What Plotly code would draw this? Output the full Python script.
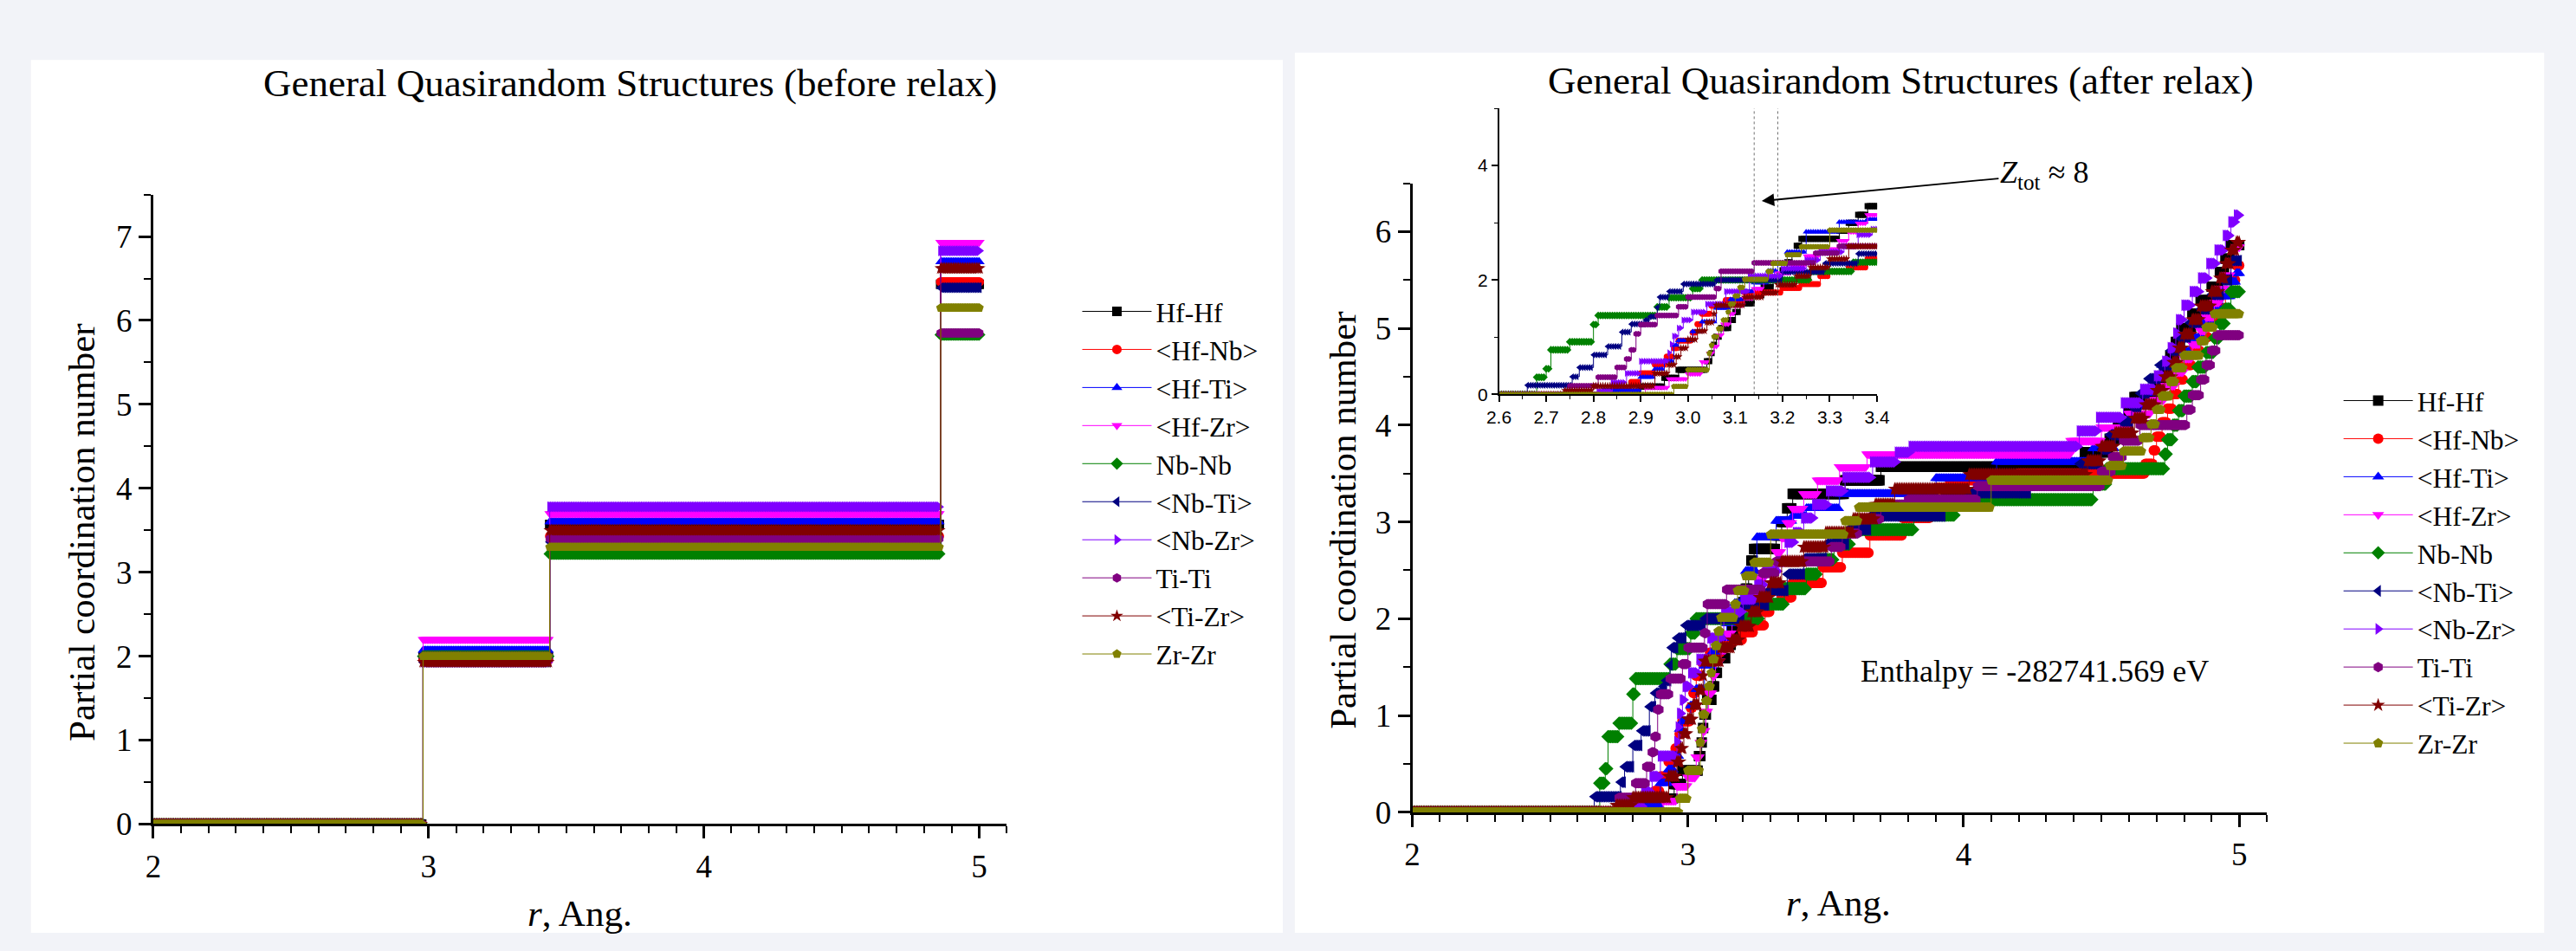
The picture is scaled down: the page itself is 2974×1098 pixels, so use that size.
import numpy as np
import plotly.graph_objects as go

W, H = 2974, 1098

# ---------------- series metadata ----------------
names = ["Hf-Hf", "&lt;Hf-Nb&gt;", "&lt;Hf-Ti&gt;", "&lt;Hf-Zr&gt;", "Nb-Nb",
         "&lt;Nb-Ti&gt;", "&lt;Nb-Zr&gt;", "Ti-Ti", "&lt;Ti-Zr&gt;", "Zr-Zr"]
colors = ["#000000", "#ff0000", "#0000ff", "#ff00ff", "#008000",
          "#000080", "#8000ff", "#800080", "#800000", "#808000"]
symbols = ["square", "circle", "triangle-up", "triangle-down", "diamond",
           "triangle-left", "triangle-right", "hexagon", "star", "pentagon"]

# ---------------- before relax: step edges (Ang.) and coordination levels ----------------
before_r = [2.0, 2.98, 3.44, 4.86]
before_hfhf = [0, 2.00, 3.57, 6.43]
before_hfnb = [0, 1.95, 3.43, 6.46]
before_hfti = [0, 2.07, 3.60, 6.70]
before_hfzr = [0, 2.20, 3.70, 6.93]
before_nbnb = [0, 2.00, 3.22, 5.83]
before_nbti = [0, 1.93, 3.36, 6.39]
before_nbzr = [0, 1.93, 3.78, 6.83]
before_titi = [0, 2.00, 3.40, 5.85]
before_tizr = [0, 1.93, 3.50, 6.62]
before_zrzr = [0, 2.00, 3.30, 6.15]
before_levels = [before_hfhf, before_hfnb, before_hfti, before_hfzr, before_nbnb,
                 before_nbti, before_nbzr, before_titi, before_tizr, before_zrzr]

# ---------------- after relax: step edges (r) and levels (n) ----------------
after_hfhf_r = [2.0, 2.90, 2.95, 2.98, 3.04, 3.05, 3.055, 3.06, 3.07, 3.09, 3.10, 3.11, 3.14, 3.16, 3.18,
                3.20, 3.21, 3.22, 3.23, 3.24, 3.32, 3.34, 3.36, 3.38, 3.57, 3.70, 4.44, 4.53, 4.56, 4.60,
                4.62, 4.70, 4.73, 4.75, 4.77, 4.79, 4.83, 4.86, 4.90, 4.93, 4.95, 4.97]
after_hfhf_n = [0, 0.14, 0.29, 0.43, 0.58, 0.72, 0.87, 1.01, 1.16, 1.30, 1.44, 1.59, 1.73, 1.88, 2.02,
                2.17, 2.31, 2.46, 2.60, 2.72, 2.86, 3.00, 3.14, 3.29, 3.43, 3.57, 3.72, 3.86, 4.00, 4.15,
                4.29, 4.43, 4.58, 4.72, 4.86, 5.00, 5.15, 5.29, 5.43, 5.58, 5.72, 5.86]

after_hfnb_r = [2.0, 2.84, 2.88, 2.90, 2.93, 2.955, 2.97, 2.98, 3.01, 3.02, 3.03, 3.05, 3.08, 3.12, 3.20,
                3.24, 3.28, 3.30, 3.34, 3.38, 3.49, 3.56, 3.66, 3.78, 3.88, 3.90, 3.95, 4.20, 4.66, 4.69,
                4.70, 4.72, 4.74, 4.76, 4.78, 4.80, 4.83, 4.86, 4.89, 4.92, 4.95, 4.97, 4.99]
after_hfnb_n = [0, 0.07, 0.22, 0.37, 0.52, 0.66, 0.81, 0.94, 1.08, 1.23, 1.41, 1.55, 1.65, 1.78, 1.86,
                1.93, 2.07, 2.15, 2.22, 2.37, 2.53, 2.68, 2.86, 3.04, 3.20, 3.35, 3.43, 3.50, 3.60, 3.74,
                3.88, 4.03, 4.17, 4.32, 4.47, 4.62, 4.77, 4.91, 5.06, 5.21, 5.36, 5.50, 5.65]

after_hfti_r = [2.0, 2.82, 2.90, 2.93, 2.95, 2.97, 2.98, 3.01, 3.03, 3.06, 3.09, 3.12, 3.14, 3.17, 3.19,
                3.21, 3.25, 3.32, 3.38, 3.43, 3.55, 3.90, 4.12, 4.47, 4.55, 4.60, 4.63, 4.66, 4.69, 4.72,
                4.77, 4.82, 4.87, 4.91, 4.94, 4.97, 4.99]
after_hfti_n = [0, 0.07, 0.30, 0.44, 0.58, 0.86, 0.94, 1.10, 1.27, 1.51, 1.66, 1.80, 1.95, 2.16, 2.30,
                2.49, 2.84, 3.01, 3.06, 3.14, 3.29, 3.45, 3.62, 3.76, 3.90, 4.05, 4.19, 4.33, 4.48, 4.62,
                4.76, 4.90, 5.05, 5.19, 5.33, 5.48, 5.57]

after_hfzr_r = [2.0, 2.91, 2.96, 3.00, 3.03, 3.045, 3.055, 3.065, 3.075, 3.09, 3.10, 3.12, 3.14, 3.16, 3.19,
                3.22, 3.25, 3.28, 3.32, 3.34, 3.36, 3.38, 3.42, 3.47, 3.55, 3.65, 4.39, 4.50, 4.60, 4.68,
                4.73, 4.77, 4.80, 4.83, 4.86, 4.88, 4.91, 4.93, 4.95, 4.97, 4.99]
after_hfzr_n = [0, 0.12, 0.27, 0.36, 0.57, 0.72, 0.84, 1.04, 1.23, 1.41, 1.56, 1.68, 1.85, 2.00, 2.12,
                2.25, 2.42, 2.54, 2.69, 2.84, 2.99, 3.14, 3.29, 3.43, 3.57, 3.70, 3.84, 3.98, 4.12, 4.26,
                4.41, 4.55, 4.69, 4.84, 4.98, 5.12, 5.27, 5.41, 5.55, 5.70, 5.84]

after_nbnb_r = [2.0, 2.68, 2.70, 2.71, 2.75, 2.80, 2.81, 2.935, 2.96, 3.01, 3.03, 3.26, 3.35, 3.43, 3.47,
                3.53, 3.59, 3.82, 3.97, 4.47, 4.52, 4.73, 4.74, 4.76, 4.78, 4.80, 4.83, 4.85, 4.88, 4.91,
                4.93, 4.95, 4.97]
after_nbnb_n = [0, 0.30, 0.45, 0.78, 0.92, 1.22, 1.38, 1.53, 1.69, 1.85, 2.00, 2.15, 2.31, 2.46, 2.61,
                2.77, 2.92, 3.07, 3.23, 3.39, 3.55, 3.70, 3.85, 4.00, 4.15, 4.30, 4.45, 4.60, 4.75, 4.90,
                5.05, 5.20, 5.38]

after_nbti_r = [2.0, 2.66, 2.755, 2.77, 2.80, 2.83, 2.86, 2.88, 2.91, 2.92, 2.935, 2.94, 2.96, 2.99, 3.06,
                3.20, 3.29, 3.36, 3.42, 3.50, 3.58, 3.66, 3.93, 4.24, 4.42, 4.50, 4.53, 4.57, 4.61, 4.64,
                4.67, 4.71, 4.75, 4.78, 4.82, 4.86, 4.90, 4.94, 4.97]
after_nbti_n = [0, 0.16, 0.31, 0.47, 0.69, 0.84, 1.09, 1.23, 1.30, 1.36, 1.52, 1.70, 1.80, 1.93, 2.00,
                2.14, 2.29, 2.46, 2.62, 2.77, 2.92, 3.06, 3.30, 3.45, 3.60, 3.75, 3.90, 4.04, 4.19, 4.33,
                4.48, 4.62, 4.77, 4.91, 5.06, 5.20, 5.35, 5.50, 5.70]

after_nbzr_r = [2.0, 2.81, 2.84, 2.87, 2.90, 2.96, 2.965, 2.97, 2.98, 2.99, 3.01, 3.04, 3.08, 3.13, 3.20,
                3.25, 3.28, 3.33, 3.36, 3.39, 3.42, 3.46, 3.51, 3.57, 3.67, 3.76, 3.81, 4.42, 4.49, 4.58,
                4.65, 4.70, 4.73, 4.75, 4.77, 4.78, 4.80, 4.83, 4.86, 4.89, 4.92, 4.95, 4.97, 4.99]
after_nbzr_n = [0, 0.06, 0.21, 0.37, 0.58, 0.73, 0.88, 1.02, 1.16, 1.30, 1.44, 1.58, 1.80, 2.07, 2.20,
                2.35, 2.49, 2.59, 2.79, 2.89, 3.04, 3.18, 3.32, 3.46, 3.62, 3.72, 3.78, 3.94, 4.08, 4.23,
                4.37, 4.51, 4.66, 4.80, 4.95, 5.09, 5.24, 5.38, 5.52, 5.67, 5.81, 5.96, 6.10, 6.17]

after_titi_r = [2.0, 2.75, 2.81, 2.85, 2.87, 2.88, 2.89, 2.90, 2.935, 2.98, 3.00, 3.06, 3.07, 3.14, 3.27,
                3.32, 3.52, 3.56, 3.62, 3.70, 3.80, 4.05, 4.50, 4.54, 4.58, 4.64, 4.81, 4.83, 4.86, 4.88,
                4.90, 4.92]
after_titi_n = [0, 0.15, 0.30, 0.47, 0.62, 0.78, 1.06, 1.22, 1.38, 1.53, 1.70, 1.85, 2.15, 2.30, 2.47,
                2.59, 2.74, 2.88, 3.03, 3.18, 3.23, 3.37, 3.52, 3.67, 3.84, 4.00, 4.16, 4.31, 4.47, 4.62,
                4.77, 4.93]

after_tizr_r = [2.0, 2.74, 2.80, 2.93, 2.96, 2.975, 2.985, 3.00, 3.02, 3.04, 3.055, 3.06, 3.12, 3.16, 3.19,
                3.23, 3.26, 3.30, 3.34, 3.42, 3.50, 3.60, 3.68, 3.75, 4.02, 4.45, 4.50, 4.55, 4.62, 4.66,
                4.70, 4.73, 4.76, 4.78, 4.80, 4.83, 4.86, 4.90, 4.93, 4.95, 4.97, 4.99]
after_tizr_n = [0, 0.07, 0.15, 0.37, 0.52, 0.66, 0.81, 0.96, 1.11, 1.26, 1.41, 1.56, 1.70, 1.78, 1.92,
                2.07, 2.22, 2.37, 2.59, 2.74, 2.89, 3.03, 3.18, 3.34, 3.49, 3.63, 3.78, 3.92, 4.07, 4.21,
                4.36, 4.50, 4.65, 4.80, 4.94, 5.09, 5.23, 5.38, 5.52, 5.67, 5.81, 5.89]

after_zrzr_r = [2.0, 2.97, 3.00, 3.045, 3.05, 3.055, 3.065, 3.075, 3.085, 3.09, 3.10, 3.11, 3.12, 3.17, 3.18,
                3.21, 3.24, 3.30, 3.57, 3.62, 4.10, 4.53, 4.58, 4.65, 4.68, 4.70, 4.72, 4.75, 4.77, 4.80,
                4.86, 4.88, 4.91]
after_zrzr_n = [0, 0.14, 0.43, 0.72, 0.86, 1.01, 1.15, 1.30, 1.44, 1.58, 1.72, 1.87, 2.01, 2.15, 2.29,
                2.44, 2.58, 2.87, 3.01, 3.15, 3.43, 3.58, 3.73, 3.87, 4.01, 4.16, 4.30, 4.45, 4.59, 4.72,
                4.87, 5.01, 5.15]

after_steps = [(after_hfhf_r, after_hfhf_n), (after_hfnb_r, after_hfnb_n), (after_hfti_r, after_hfti_n),
               (after_hfzr_r, after_hfzr_n), (after_nbnb_r, after_nbnb_n), (after_nbti_r, after_nbti_n),
               (after_nbzr_r, after_nbzr_n), (after_titi_r, after_titi_n), (after_tizr_r, after_tizr_n),
               (after_zrzr_r, after_zrzr_n)]

# radial sampling of the cumulative curves (Ang.)
r_start, r_end, r_step = 2.0, 5.0, 0.005
r_grid = np.round(np.arange(r_start, r_end + 1e-9, r_step), 4)

# Z_tot ~ 8 cut-off markers (inset) and annotation values
zcut_r = [3.14, 3.19]
enthalpy_text = "Enthalpy = -282741.569 eV"


def step_eval(edges, levels, grid):
    idx = np.searchsorted(np.asarray(edges), grid + 1e-9, side="right") - 1
    return np.asarray(levels, dtype=float)[idx]


fig = go.Figure()

SERIF = "Liberation Serif"
SANS = "Liberation Sans"

# ---- left panel: before relax ----
for i in range(10):
    y = step_eval(before_r, before_levels[i], r_grid)
    fig.add_trace(go.Scatter(
        x=r_grid, y=y, mode="lines+markers", name=names[i],
        line=dict(color=colors[i], width=1, shape="hv"),
        marker=dict(symbol=symbols[i], size=11, color=colors[i], line=dict(width=0)),
        xaxis="x", yaxis="y", legend="legend"))

# ---- right panel: after relax ----
for i in range(10):
    er, en = after_steps[i]
    y = step_eval(er, en, r_grid)
    fig.add_trace(go.Scatter(
        x=r_grid, y=y, mode="lines+markers", name=names[i],
        line=dict(color=colors[i], width=1, shape="hv"),
        marker=dict(symbol=symbols[i], size=12, color=colors[i], line=dict(width=0)),
        xaxis="x2", yaxis="y2", legend="legend2"))

# ---- inset ----
sel = (r_grid >= 2.58) & (r_grid <= 3.42)
for i in range(10):
    er, en = after_steps[i]
    y = step_eval(er, en, r_grid[sel])
    fig.add_trace(go.Scatter(
        x=r_grid[sel], y=y, mode="lines+markers", name=names[i], showlegend=False,
        line=dict(color=colors[i], width=1, shape="hv"),
        marker=dict(symbol=symbols[i], size=7, color=colors[i], line=dict(width=0)),
        xaxis="x3", yaxis="y3"))

fig.add_trace(go.Scatter(
    x=[zcut_r[0], zcut_r[0], None, zcut_r[1], zcut_r[1]], y=[0, 5, None, 0, 5],
    mode="lines", showlegend=False, line=dict(color="#707070", width=1, dash="dot"),
    xaxis="x3", yaxis="y3"))


def px_x(v):
    return v / W


def px_y(v):
    return 1 - v / H


def main_axis(dom, rng, dtick, mdtick, anchor, t0):
    return dict(domain=dom, range=rng, anchor=anchor, showline=True, linecolor="black", linewidth=3,
                ticks="outside", ticklen=14, tickwidth=2.5, tickcolor="black", tick0=t0, dtick=dtick,
                minor=dict(ticks="outside", ticklen=8, tickwidth=2, tickcolor="black", dtick=mdtick, tick0=t0,
                           showgrid=False),
                showgrid=False, zeroline=False, mirror=False,
                tickfont=dict(family=SERIF, size=37, color="black"))


fig.update_layout(
    width=W, height=H, margin=dict(l=0, r=0, t=0, b=0),
    paper_bgcolor="#f2f3f8", plot_bgcolor="rgba(0,0,0,0)",
    xaxis=main_axis([px_x(163.6), px_x(1159)], [2, 5.1], 1, 0.1, "y", 2),
    yaxis=main_axis([px_y(970), px_y(229)], [0, 7.5], 1, 0.5, "x", 0),
    xaxis2=main_axis([px_x(1632), px_x(2628.5)], [2, 5.1], 1, 0.1, "y2", 2),
    yaxis2=main_axis([px_y(956), px_y(215.7)], [0, 6.5], 1, 0.5, "x2", 0),
    xaxis3=dict(domain=[px_x(1733), px_x(2174)], range=[2.6, 3.4], anchor="y3", showline=True,
                linecolor="black", linewidth=1.5, ticks="outside", ticklen=7, tickwidth=1.5, tickcolor="black",
                tick0=2.6, dtick=0.1, tickformat=".1f",
                minor=dict(ticks="outside", ticklen=4, tickwidth=1.2, tickcolor="black", dtick=0.05, tick0=2.6),
                showgrid=False, zeroline=False, tickfont=dict(family=SANS, size=21, color="black")),
    yaxis3=dict(domain=[px_y(464.3), px_y(127.5)], range=[0, 5], anchor="x3", showline=True,
                linecolor="black", linewidth=1.5, ticks="outside", ticklen=7, tickwidth=1.5, tickcolor="black",
                tick0=0, dtick=2,
                minor=dict(ticks="outside", ticklen=4, tickwidth=1.2, tickcolor="black", dtick=1, tick0=0),
                showgrid=False, zeroline=False, tickfont=dict(family=SANS, size=21, color="black")),
    legend=dict(x=px_x(1242), y=px_y(339), xanchor="left", yanchor="top", itemwidth=80,
                bgcolor="rgba(0,0,0,0)", font=dict(family=SERIF, size=31.5, color="black"),
                tracegroupgap=0),
    legend2=dict(x=px_x(2713), y=px_y(444), xanchor="left", yanchor="top", itemwidth=80,
                 bgcolor="rgba(0,0,0,0)", font=dict(family=SERIF, size=31.5, color="black"),
                 tracegroupgap=0),
    showlegend=True,
    shapes=[
        dict(type="rect", xref="paper", yref="paper", x0=px_x(21), x1=px_x(1481), y0=0, y1=px_y(70.7),
             fillcolor="white", line=dict(width=0), layer="below"),
        dict(type="rect", xref="paper", yref="paper", x0=px_x(1495), x1=px_x(2952), y0=0, y1=px_y(62),
             fillcolor="white", line=dict(width=0), layer="below"),
    ],
)

ann_font = dict(family=SERIF, color="black")
annotations = [
    dict(text="General Quasirandom Structures (before relax)", x=px_x(720), y=px_y(98), xref="paper",
         yref="paper", showarrow=False, xanchor="center", yanchor="middle", font=dict(size=45, **ann_font)),
    dict(text="General Quasirandom Structures (after relax)", x=px_x(2202), y=px_y(94.5), xref="paper",
         yref="paper", showarrow=False, xanchor="center", yanchor="middle", font=dict(size=45, **ann_font)),
    dict(text="Partial coordination number", x=px_x(81), y=px_y(626.7), xref="paper", yref="paper",
         textangle=-90, showarrow=False, xanchor="center", yanchor="middle", font=dict(size=43, **ann_font)),
    dict(text="Partial coordination number", x=px_x(1551.5), y=px_y(612.7), xref="paper", yref="paper",
         textangle=-90, showarrow=False, xanchor="center", yanchor="middle", font=dict(size=43, **ann_font)),
    dict(text="<i>r</i>, Ang.", x=px_x(661), y=px_y(1075), xref="paper", yref="paper", showarrow=False,
         xanchor="center", yanchor="middle", font=dict(size=43, **ann_font)),
    dict(text="<i>r</i>, Ang.", x=px_x(2129), y=px_y(1063), xref="paper", yref="paper", showarrow=False,
         xanchor="center", yanchor="middle", font=dict(size=43, **ann_font)),
    dict(text=enthalpy_text, x=px_x(2358), y=px_y(790), xref="paper", yref="paper", showarrow=False,
         xanchor="center", yanchor="middle", font=dict(size=36, **ann_font)),
    dict(text="<i>Z</i><sub>tot</sub> ≈ 8", x=3.156, y=3.38, xref="x3", yref="y3", showarrow=True,
         ax=326, ay=-31, arrowhead=2, arrowsize=1.6, arrowwidth=1.8, arrowcolor="black",
         font=dict(size=36, **ann_font)),
]
fig.update_layout(annotations=annotations)

fig.write_html("out.html")
